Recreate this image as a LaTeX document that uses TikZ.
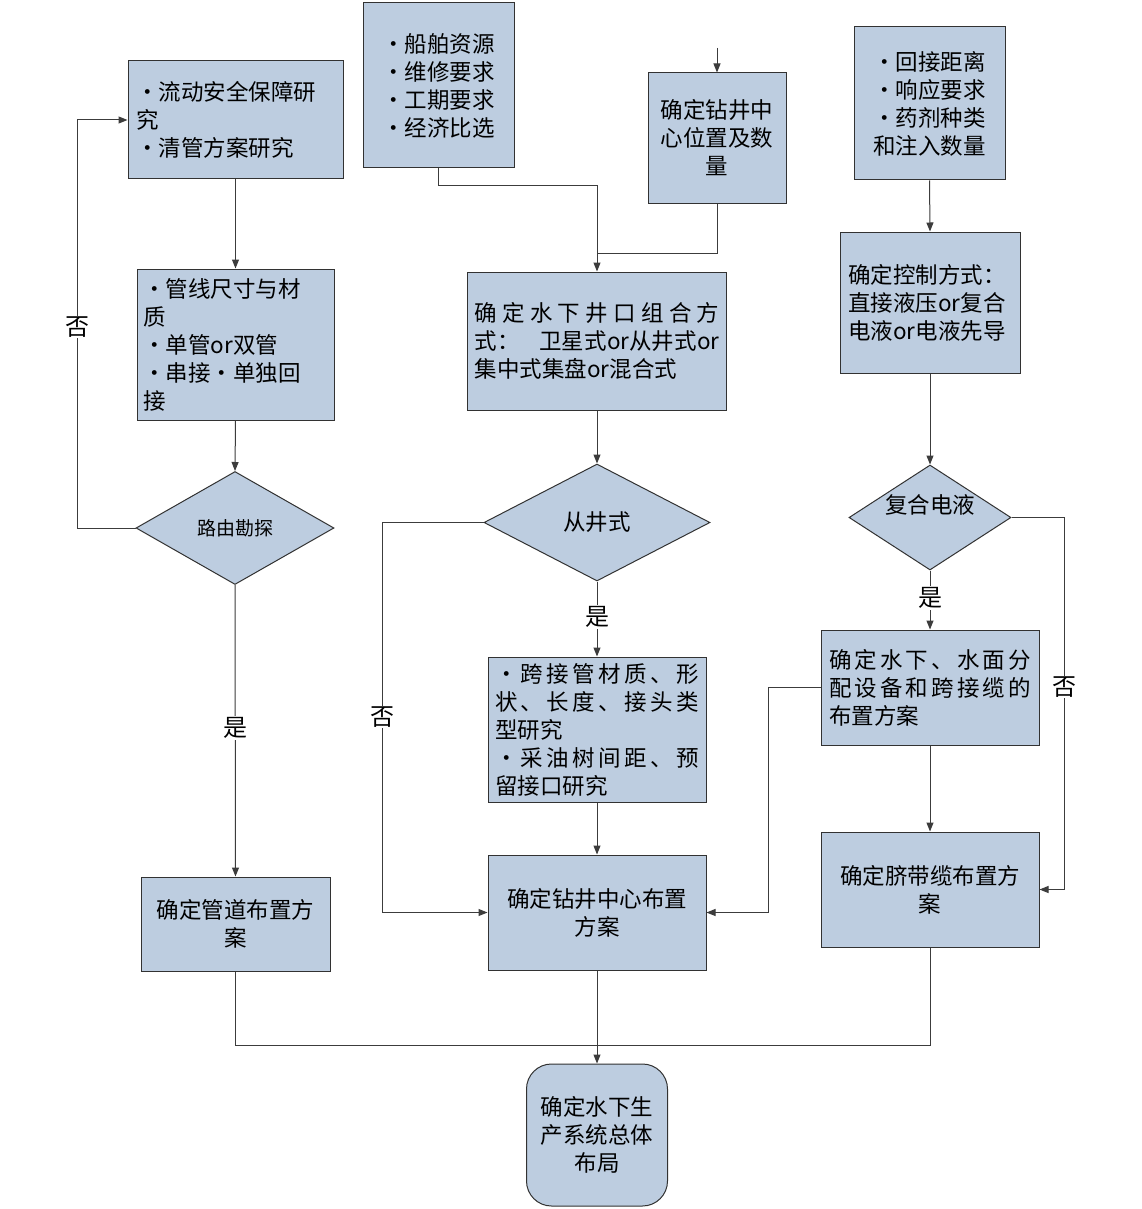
\documentclass[tikz,border=0pt]{standalone}
\usepackage{fontspec}
\setmainfont{Noto Sans CJK SC}
\usetikzlibrary{arrows.meta,shapes.geometric}
\definecolor{boxfill}{RGB}{189,205,224}
\definecolor{edge}{RGB}{50,50,50}
\definecolor{wire}{RGB}{60,60,60}
\newcommand\orword{\makebox[22.5pt]{or}}
\begin{document}
\begin{tikzpicture}[x=1pt,y=-1pt,
  box/.style={draw=edge, fill=boxfill, line width=1pt, inner sep=0pt,
              font=\fontsize{22.5}{28}\selectfont},
  dia/.style={draw=edge, fill=boxfill, line width=1pt, inner sep=0pt, diamond,
              font=\fontsize{22.5}{28}\selectfont},
  wireline/.style={draw=wire, line width=1pt},
  arr/.style={wireline, -{Triangle[length=9pt,width=7pt]}},
  lbl/.style={fill=white, inner sep=1pt, font=\fontsize{24}{24}\selectfont}]
\useasboundingbox[fill=white] (0,0) rectangle (1142,1209);

% boxes
\node[box, minimum width=215pt, minimum height=118pt, text width=199pt, align=left]
  (A) at (235.5,120) {•流动安全保障研\\究\\•清管方案研究};
\node[box, minimum width=151pt, minimum height=165pt, align=center]
  (B) at (438.5,85.5) {•船舶资源\\•维修要求\\•工期要求\\•经济比选};
\node[box, minimum width=138pt, minimum height=130pt, align=center]
  (C) at (717,138) {确定钻井中\\心位置及数\\量};
\node[box, minimum width=151pt, minimum height=153pt, align=center]
  (D) at (929.5,103.5) {•回接距离\\•响应要求\\•药剂种类\\和注入数量};
\node[box, minimum width=197pt, minimum height=151pt, text width=185pt, align=left]
  (E) at (235.5,344.5) {•管线尺寸与材\\质\\•单管\orword 双管\\•串接•单独回\\接};
\node[box, minimum width=259pt, minimum height=138pt, text width=245pt, align=left]
  (F) at (597,341) {\makebox[245pt][s]{确\hfill 定\hfill 水\hfill 下\hfill 井\hfill 口\hfill 组\hfill 合\hfill 方}\\
  \makebox[245pt][s]{式：\hfill 卫星式\orword 从井式\orword}\\集中式集盘\orword 混合式};
\node[box, minimum width=180pt, minimum height=141pt, text width=164pt, align=left]
  (G) at (930,302.5) {确定控制方式：\\直接液压\orword 复合\\电液\orword 电液先导};
\node[box, minimum width=218pt, minimum height=145pt, text width=204pt, align=left]
  (K) at (597,729.5) {\makebox[204pt][s]{•\hfill 跨\hfill 接\hfill 管\hfill 材\hfill 质\hfill 、\hfill 形}\\
  \makebox[204pt][s]{状\hfill 、\hfill 长\hfill 度\hfill 、\hfill 接\hfill 头\hfill 类}\\型研究\\
  \makebox[204pt][s]{•\hfill 采\hfill 油\hfill 树\hfill 间\hfill 距\hfill 、\hfill 预}\\留接口研究};
\node[box, minimum width=218pt, minimum height=115pt, align=center]
  (L) at (597,912.5) {确定钻井中心布置\\方案};
\node[box, minimum width=218pt, minimum height=115pt, text width=202pt, align=left]
  (M) at (930,687.5) {\makebox[202pt][s]{确\hfill 定\hfill 水\hfill 下\hfill 、\hfill 水\hfill 面\hfill 分}\\
  \makebox[202pt][s]{配\hfill 设\hfill 备\hfill 和\hfill 跨\hfill 接\hfill 缆\hfill 的}\\布置方案};
\node[box, minimum width=218pt, minimum height=115pt, align=center]
  (N) at (930,889.5) {确定脐带缆布置方\\案};
\node[box, minimum width=189pt, minimum height=94pt, align=center]
  (O) at (235.5,924) {确定管道布置方\\案};
\node[box, rounded corners=25pt, minimum width=141pt, minimum height=142pt, align=center]
  (P) at (597,1135) {确定水下生\\产系统总体\\布局};

% diamonds
\node[dia, minimum width=198pt, minimum height=113pt, font=\fontsize{19}{22}\selectfont]
  (H) at (235,528) {路由勘探};
\node[dia, minimum width=226pt, minimum height=117pt]
  (I) at (597,522.5) {从井式};
\node[dia, minimum width=162pt, minimum height=105pt]
  (J) at (930,517.5) {\raisebox{4pt}[0pt][0pt]{复合电液}};

% connectors
\coordinate (cin) at (717,48);
\coordinate (jF) at (597,253);
\coordinate (jP) at (597,1045);
\draw[arr] (cin) -- (C.north);
\draw[arr] (A.south) -- (E.north);
\draw[arr] (E.south) -- (H.north);
\draw[arr] (H.west) -- (77,528) |- (A.west);
\draw[arr] (H.south) -- (O.north);
\draw[arr] (B.south) -- ++(0,17) -| (F.north);
\draw[wireline] (C.south) |- (jF);
\draw[arr] (D.south) -- (G.north);
\draw[arr] (G.south) -- (J.north);
\draw[arr] (F.south) -- (I.north);
\draw[arr] (I.south) -- (K.north);
\draw[arr] (I.west) -- (382,522.5) |- (L.west);
\draw[arr] (K.south) -- (L.north);
\draw[arr] (J.south) -- (M.north);
\draw[arr] (J.east) -- (1064,517.5) |- (N.east);
\draw[arr] (M.west) -- (768,687.5) |- (L.east);
\draw[arr] (M.south) -- (N.north);
\draw[wireline] (O.south) |- (jP);
\draw[wireline] (N.south) |- (jP);
\draw[arr] (L.south) -- (P.north);

% labels
\node[lbl] (l1) at (77,327) {否};
\node[lbl] (l2) at (235,728) {是};
\node[lbl] (l3) at (597,617) {是};
\node[lbl] (l4) at (382,717) {否};
\node[lbl] (l5) at (930,598) {是};
\node[lbl] (l6) at (1064,687) {否};
\end{tikzpicture}
\end{document}
